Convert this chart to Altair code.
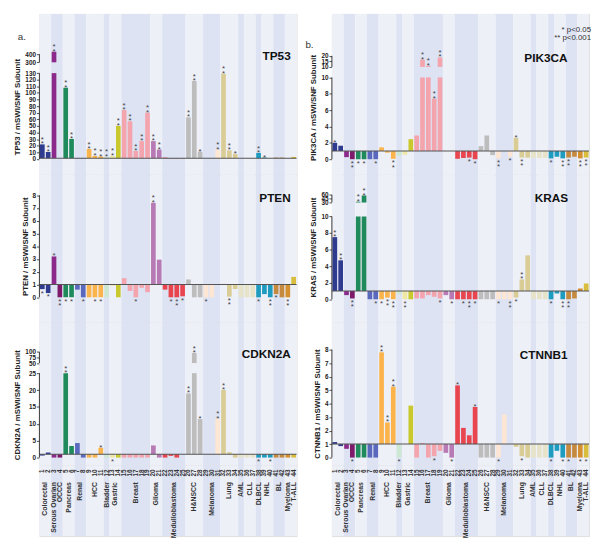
import altair as alt
import pandas as pd

FONT = "Liberation Sans"
IDX = list(range(1, 45))

palette = [
    "#2e3b8f", "#2e3b8f",
    "#8c2a8c", "#7e1a6a",
    "#1f8a5b", "#1f8a5b",
    "#5a69bd", "#5a69bd",
    "#fbb44c", "#fbb44c", "#fbb44c",
    "#cde8d2",
    "#efe7a2", "#c9c92e",
    "#f4a4ad", "#f4a4ad", "#f4a4ad", "#f4a4ad", "#f4a4ad",
    "#b77ab5", "#b77ab5",
    "#e9454e", "#e9454e", "#e9454e", "#e9454e",
    "#bdbdbd", "#bdbdbd", "#bdbdbd",
    "#fde6d3", "#fde6d3", "#fde6d3",
    "#d9cc95", "#d9cc95", "#d9cc95",
    "#e7e3c9", "#e7e3c9", "#e7e3c9",
    "#1d9cc0", "#1d9cc0", "#1d9cc0",
    "#c68a3e", "#c68a3e", "#d48f2e",
    "#d9bd3c",
]

band_start = [1, 3, 5, 7, 9, 12, 13, 15, 20, 22, 26, 29, 32, 35, 36, 38, 39, 41, 43]
band_end = [2, 4, 6, 8, 11, 12, 14, 19, 21, 25, 28, 31, 34, 35, 37, 38, 40, 42, 44]
band_shade = ["light" if i % 2 == 0 else "blue" for i in range(len(band_start))]

group_names = ["Colorectal", "Serous Ovarian", "OCCC", "Pancreas", "Renal", "HCC", "Bladder",
               "Gastric", "Breast", "Glioma", "Medulloblastoma", "H&NSCC", "Melanoma", "Lung",
               "AML", "CLL", "DLBCL", "NHL", "BL", "Myeloma", "T-ALL"]
group_pos = [1.5, 3, 4, 5.5, 7.5, 10, 12, 13.5, 17, 20.5, 23.5, 27, 30, 33, 35, 36.5, 38,
             39.5, 41.5, 43, 44]

tp53 = [22, 10.5, 430, 1, 108, 30, 0.5, 0.5, 15, 4.5, 3.5, 3, 4.5, 50, 74, 57, 12, 27, 70,
        27, 14, 2, 0.5, 0.5, 0.5, 63, 118, 11, 1, 1, 14, 129, 13, 7.5, 1, 1, 1, 9, 2, 1, 2,
        2, 1, 3]
tp53_sig = ["**", "**", "**", "", "**", "**", "", "", "**", "**", "**", "**", "**", "**",
            "**", "**", "**", "**", "**", "**", "**", "", "", "", "", "**", "**", "*", "",
            "", "**", "**", "**", "*", "", "", "", "**", "*", "", "", "", "", ""]

pten = [0.64, 0.33, 3.2, 0, 0, 0, 0.6, 0, 0, 0, 0, 0, 0.9, 0, 1.5, 0.5, 0, 0.75, 0.4, 7.4,
        2.95, 0.6, 0, 0, 0.08, 1.4, 0, 0, 0, 0, 1.0, 1.05, 0.05, 0.65, 0, 0, 0, 0, 0.25, 0,
        0.25, 0, 0, 1.6]
pten_sig = ["*", "*", "*", "**", "*", "*", "", "*", "", "*", "*", "", "", "", "", "", "*",
            "", "", "**", "", "", "*", "**", "*", "", "", "", "*", "", "", "", "**", "", "",
            "", "", "*", "", "**", "*", "", "**", ""]

cdkn2a = [0.6, 1.5, 0, 0, 25, 3.4, 4.3, 0, 0, 0, 2.9, 0, 0, 0, 0, 0, 0, 0, 0, 3.6, 0, 0,
          0.5, 0, 1, 19, 95, 11.4, 1, 1, 11.5, 20, 1.6, 0, 0, 0, 0, 0, 0, 0, 0, 0, 0, 0]
cdkn2a_sig = ["", "", "", "", "**", "", "", "", "", "", "*", "", "*", "", "", "", "", "",
              "", "", "", "", "", "", "", "**", "**", "*", "", "", "**", "**", "", "", "",
              "", "", "*", "", "*", "", "", "", ""]

pik3ca = [2.0, 1.65, 0.25, 0, 0, 0, 0, 0, 1.45, 0.8, 0.05, 0.4, 0.55, 2.45, 2.9, 16.5, 11,
          7.4, 18.5, 1, 1, 0.05, 0.15, 0.2, 0, 1.6, 2.9, 0.5, 0.1, 1, 0.3, 2.6, 0.2, 0.2,
          0.15, 0.15, 0.15, 0.1, 0.3, 0.1, 0.2, 0.3, 0.1, 0.2]
pik3ca_sig = ["*", "", "", "**", "*", "*", "", "*", "", "", "**", "", "", "", "", "**", "**",
              "**", "**", "", "", "", "", "*", "*", "", "", "", "**", "", "*", "*", "**", "",
              "", "", "", "*", "", "**", "**", "", "**", "**"]

kras = [7.5, 4.7, 0.5, 0.1, 33, 57, 0, 0, 0, 0.2, 0, 0.6, 0, 0, 0.1, 0.1, 0.5, 0.3, 0.1,
        0.5, 0, 0, 0, 0, 0, 0, 0, 0, 0, 0, 0, 0.2, 2.4, 5.3, 0, 0, 0, 0, 0.7, 0, 0, 0.1,
        1.3, 1.9]
kras_sig = ["**", "**", "", "**", "**", "**", "", "*", "*", "**", "**", "", "**", "", "", "",
            "", "", "*", "", "*", "", "*", "**", "*", "", "", "", "*", "", "**", "*", "**",
            "", "", "", "", "*", "", "**", "**", "", "", ""]

ctnnb1 = [1.15, 0.85, 0.65, 0, 0, 0, 0, 0, 7.8, 2.6, 5.25, 0, 1, 3.85, 0, 1.08, 0, 0.1, 0.5,
          0.35, 0, 5.35, 2.2, 1.65, 3.75, 0, 0, 0, 0, 3.2, 1, 0.8, 0.1, 0, 0, 0, 0, 0, 0.5, 0,
          0, 0, 0, 0]
ctnnb1_sig = ["", "", "", "*", "", "", "", "", "**", "**", "**", "*", "", "", "", "", "",
              "*", "", "", "*", "*", "", "", "*", "", "", "", "*", "", "", "", "*", "", "",
              "", "", "*", "", "*", "*", "", "*", "*"]

W = 262
LIGHT = "#eef0f8"
BLUE = "#dde3f3"
INK = "#222222"
STAR = "#444444"

xs = alt.Scale(domain=[0.5, 44.5], nice=False, zero=False)
shade_scale = alt.Scale(domain=["light", "blue"], range=[LIGHT, BLUE])
color_scale = alt.Scale(domain=IDX, range=palette)
bands = pd.DataFrame({"start": band_start, "end": band_end, "shade": band_shade})


def stripes(H):
    return alt.Chart(bands).transform_calculate(
        x0="datum.start - 0.5", x1="datum.end + 0.5"
    ).mark_rect().encode(
        x=alt.X("x0:Q", scale=xs, axis=None), x2="x1:Q",
        y=alt.value(0), y2=alt.value(H),
        fill=alt.Fill("shade:N", scale=shade_scale, legend=None),
    )


def yaxis(t, ticks):
    return alt.Axis(title=t, values=ticks, format="d", domain=False, grid=False,
                    tickSize=3, tickColor=INK, tickWidth=0.8,
                    labelFont=FONT, labelFontSize=6.5, labelFontWeight="bold",
                    labelColor=INK, labelPadding=1, labelOverlap=False,
                    titleFont=FONT, titleFontSize=8, titleFontWeight="bold",
                    titleColor=INK, titlePadding=3)


def panel(gene, vals, sigs, domain, rng, ticks, brk, segs, H, tx, ty, extras=()):
    df = pd.DataFrame({"idx": IDX, "v": vals, "sig": sigs})
    ys = alt.Scale(domain=domain, range=rng, nice=False, zero=False)
    ax = yaxis(f"{gene} / mSWI/SNF Subunit", ticks)
    top_expr = f"min(datum.v, {brk[0]})" if brk else "datum.v"
    layers = [stripes(H)]
    lower = alt.Chart(df).transform_calculate(
        x0="datum.idx - 0.4", x1="datum.idx + 0.4", top=top_expr, base="1"
    ).mark_rect().encode(
        x=alt.X("x0:Q", scale=xs, axis=None), x2="x1:Q",
        y=alt.Y("top:Q", scale=ys, axis=ax), y2="base:Q",
        color=alt.Color("idx:O", scale=color_scale, legend=None),
    )
    layers.append(lower)
    if brk:
        upper = alt.Chart(df).transform_filter(f"datum.v > {brk[1]}").transform_calculate(
            x0="datum.idx - 0.4", x1="datum.idx + 0.4", top="datum.v", base=str(brk[1])
        ).mark_rect().encode(
            x=alt.X("x0:Q", scale=xs, axis=None), x2="x1:Q",
            y=alt.Y("top:Q", scale=ys, axis=ax), y2="base:Q",
            color=alt.Color("idx:O", scale=color_scale, legend=None),
        )
        layers.append(upper)
    base_line = alt.Chart(pd.DataFrame({"top": [1]})).mark_rule(
        color="#555555", strokeWidth=1.1
    ).encode(x=alt.value(0), x2=alt.value(W), y=alt.Y("top:Q", scale=ys, axis=ax))
    layers.append(base_line)
    seg_df = pd.DataFrame({"top": [s[0] for s in segs], "b": [s[1] for s in segs]})
    axis_line = alt.Chart(seg_df).mark_rule(color=INK, strokeWidth=0.9).encode(
        x=alt.value(0), y=alt.Y("top:Q", scale=ys, axis=ax), y2="b:Q")
    layers.append(axis_line)
    # significance asterisks: first star next to the bar end, second star stacked beyond it
    star_base = alt.Chart(df).transform_filter("datum.sig != ''").transform_calculate(
        top="datum.v", txt="'*'")
    enc = dict(x=alt.X("idx:Q", scale=xs, axis=None),
               y=alt.Y("top:Q", scale=ys, axis=ax), text="txt:N")
    sty = dict(fontSize=8, font=FONT, color=STAR)
    layers.append(star_base.transform_filter("datum.v >= 1").mark_text(
        baseline="bottom", dy=4, **sty).encode(**enc))
    layers.append(star_base.transform_filter("datum.v >= 1 && datum.sig == '**'").mark_text(
        baseline="bottom", dy=-0.5, **sty).encode(**enc))
    layers.append(star_base.transform_filter("datum.v < 1").mark_text(
        baseline="top", dy=0.5, **sty).encode(**enc))
    layers.append(star_base.transform_filter("datum.v < 1 && datum.sig == '**'").mark_text(
        baseline="top", dy=5, **sty).encode(**enc))
    title = alt.Chart(pd.DataFrame({"t": [gene]})).mark_text(
        align="right", baseline="alphabetic", font=FONT, fontSize=12,
        fontWeight="bold", color="#111111"
    ).encode(text="t:N", x=alt.value(tx), y=alt.value(ty))
    layers.append(title)
    for (txt, ex, ey, size, al) in extras:
        layers.append(alt.Chart(pd.DataFrame({"t": [txt]})).mark_text(
            align=al, baseline="alphabetic", font=FONT, fontSize=size, color="#333333"
        ).encode(text="t:N", x=alt.value(ex), y=alt.value(ey)))
    return alt.layer(*layers).properties(width=W, height=H)


def label_panel(H):
    nums = alt.Chart(pd.DataFrame({"idx": IDX})).transform_calculate(
        lab="'' + datum.idx").mark_text(
        angle=270, align="right", baseline="middle", fontSize=6.5, font=FONT,
        fontWeight="bold", color="#333333"
    ).encode(x=alt.X("idx:Q", scale=xs, axis=None), y=alt.value(4), text="lab:N")
    grp = alt.Chart(pd.DataFrame({"name": group_names, "pos": group_pos})).mark_text(
        angle=270, align="right", baseline="middle", fontSize=7, font=FONT,
        fontWeight="bold", color="#333333"
    ).encode(x=alt.X("pos:Q", scale=xs, axis=None), y=alt.value(17), text="name:N")
    return alt.layer(stripes(H), nums, grp).properties(width=W, height=H)


p_tp53 = panel("TP53", tp53, tp53_sig, [0, 130, 300, 400], [147.7, 60.3, 49.3, 41.0],
               list(range(0, 131, 10)) + [300, 400], (130, 300), [(0, 130), (300, 400)],
               164, 256, 47, extras=[("a.", -22, 27, 10, "left")])
p_pten = panel("PTEN", pten, pten_sig, [0, 8], [124.7, 20.7], list(range(0, 9)), None,
               [(0, 8)], 150, 256, 28)
p_cdkn2a = panel("CDKN2A", cdkn2a, cdkn2a_sig, [0, 25, 50, 100], [138, 52, 41.7, 30.3],
                 [0, 5, 10, 15, 20, 25, 50, 75, 100], (25, 50), [(0, 25), (50, 100)],
                 146, 256, 37)
p_pik3ca = panel("PIK3CA", pik3ca, pik3ca_sig, [0, 10, 10.001, 20], [148, 64.7, 54, 42.7],
                 [0, 2, 4, 6, 8, 10, 10.001, 15, 20], (10, 10.001),
                 [(0, 10), (10.001, 20)], 164, 240, 48.7,
                 extras=[("b.", -27, 35, 10, "left"),
                         ("* p<0.05", 264, 18.7, 8, "right"),
                         ("** p<0.001", 264, 27, 8, "right")])
p_kras = panel("KRAS", kras, kras_sig, [0, 10, 30, 60], [126.7, 42.3, 28, 20.3],
               [0, 2, 4, 6, 8, 10, 30, 45, 60], (10, 30), [(0, 10), (30, 60)],
               150, 240.7, 28)
p_ctnnb1 = panel("CTNNB1", ctnnb1, ctnnb1_sig, [0, 8], [138, 28], list(range(0, 9)), None,
                 [(0, 8)], 146, 240, 37.3)

left = alt.vconcat(p_tp53, p_pten, p_cdkn2a, label_panel(72), spacing=0, bounds="flush")
right = alt.vconcat(p_pik3ca, p_kras, p_ctnnb1, label_panel(72), spacing=0, bounds="flush")

chart = alt.hconcat(left, right, spacing=6).properties(
    padding={"left": 5, "top": 0, "right": 0, "bottom": 0}
).configure_view(strokeWidth=0).configure(font=FONT)

chart.save("out.html", embed_options={"renderer": "svg", "actions": False})
